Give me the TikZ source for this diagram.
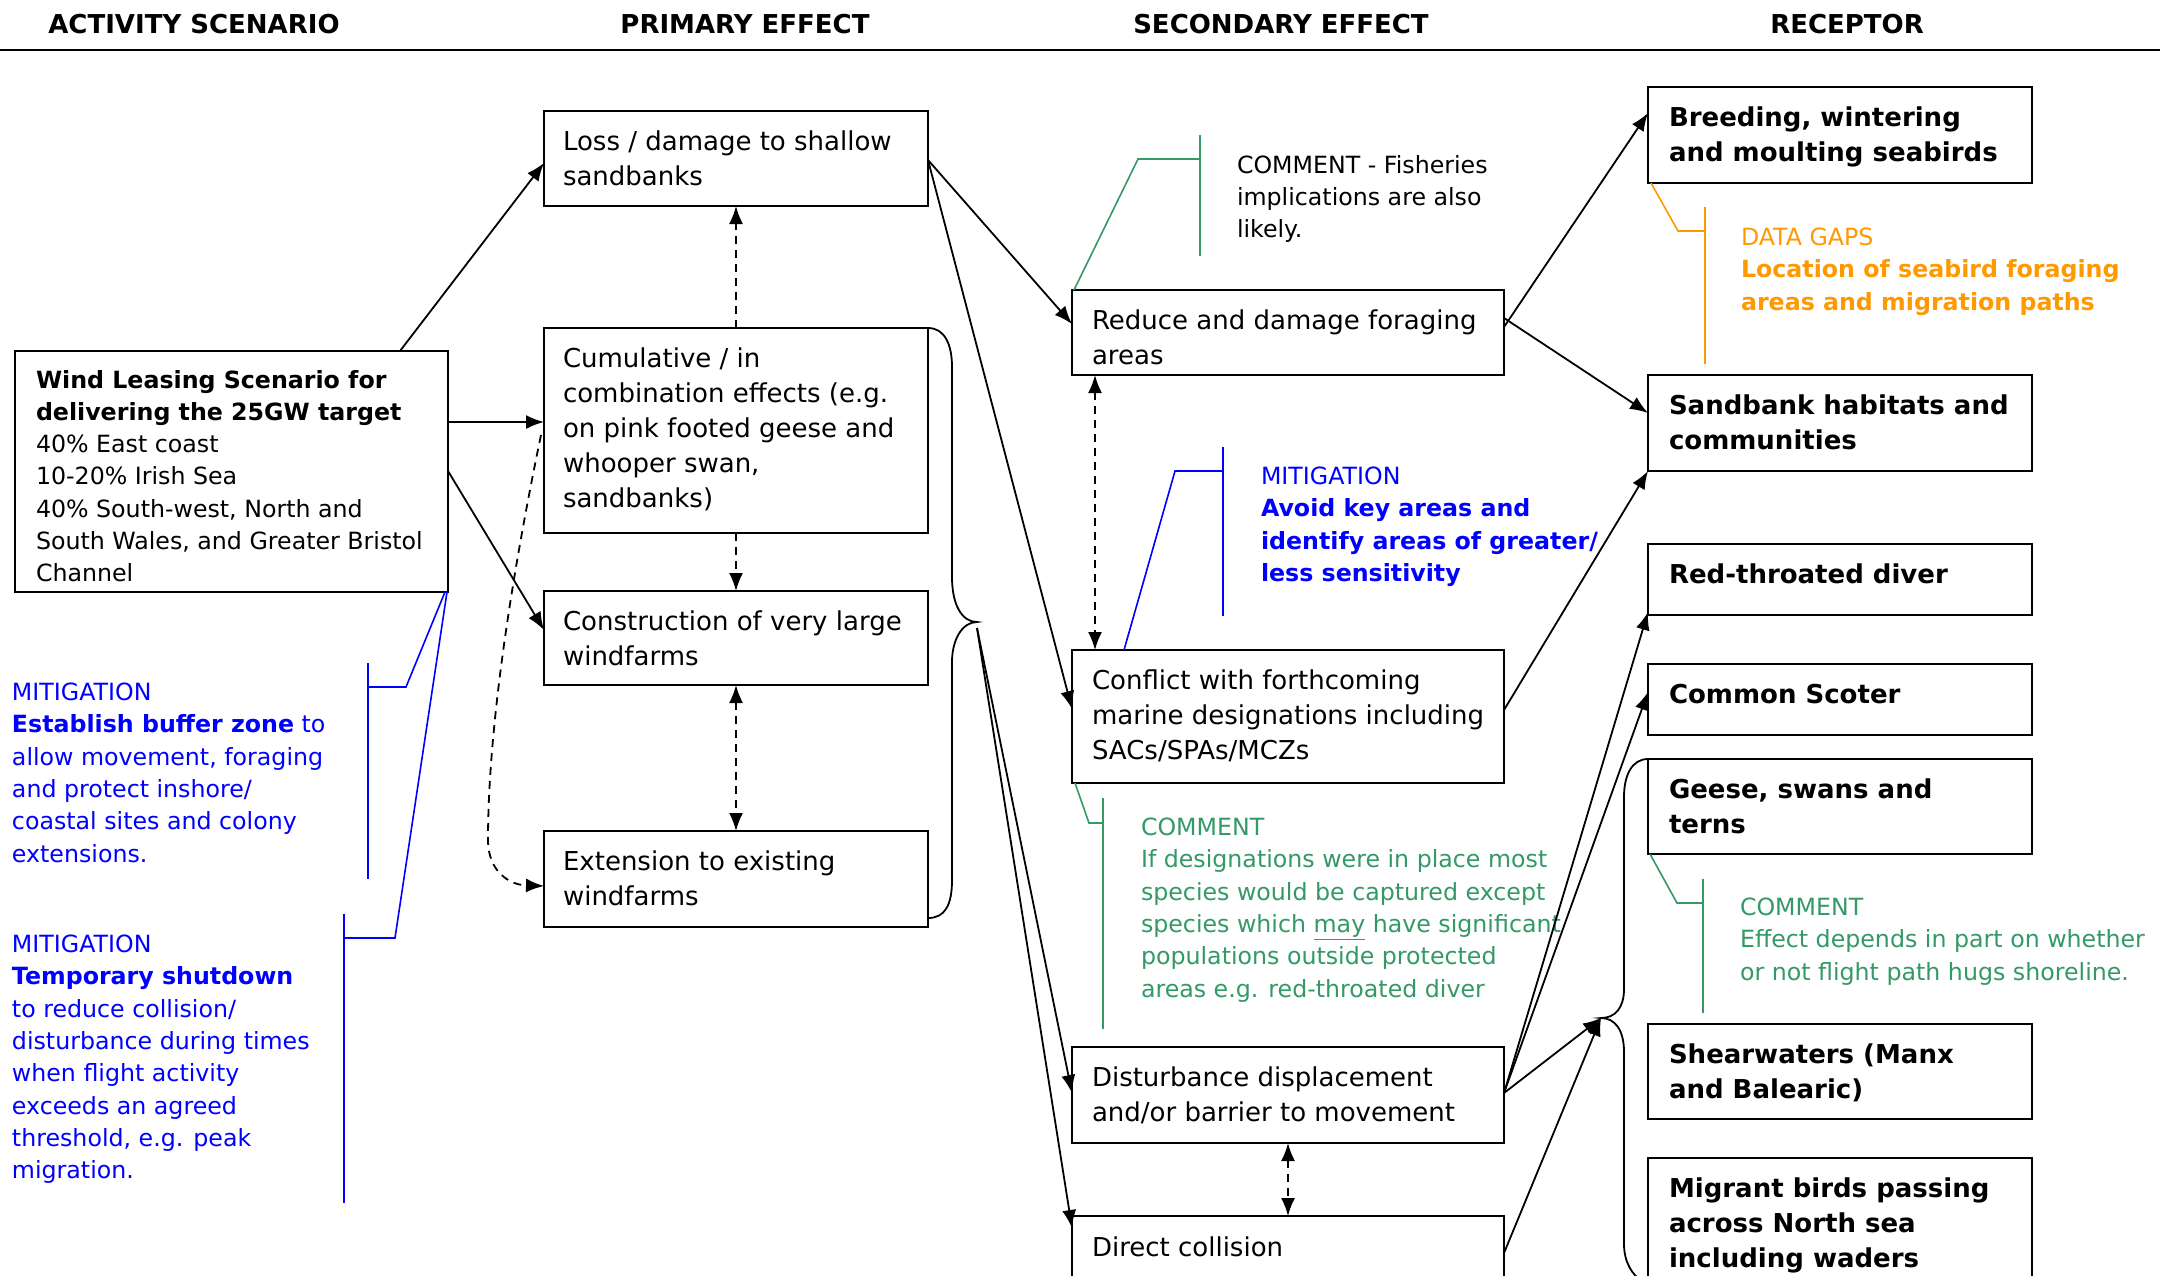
\documentclass[tikz,border=0pt]{standalone}
\usepackage{fontspec}
\setmainfont{DejaVu Sans}
\usetikzlibrary{arrows.meta}
\definecolor{mblue}{RGB}{0,0,255}
\definecolor{mgreen}{RGB}{51,153,102}
\definecolor{morange}{RGB}{255,153,0}
\begin{document}
\begin{tikzpicture}[x=1pt,y=-1pt,
  box/.style={draw, line width=2.2pt, anchor=north west, inner sep=0pt, outer sep=0pt},
  btxt/.style={anchor=north west, inner sep=0pt, outer sep=0pt, align=left, font=\fontsize{26}{35}\selectfont, execute at begin node=\strut},
  rtxt/.style={btxt, font=\bfseries\fontsize{26}{35}\selectfont},
  note/.style={anchor=north west, inner sep=0pt, outer sep=0pt, align=left, font=\fontsize{23.7}{32.3}\selectfont, execute at begin node=\strut},
  hdr/.style={anchor=base, inner sep=0pt, font=\bfseries\fontsize{26}{32}\selectfont},
  conn/.style={line width=1.8pt, -{Latex[length=18pt,width=14pt]}},
  dconn/.style={conn, dash pattern=on 8pt off 6pt},
  ddconn/.style={line width=1.8pt, dash pattern=on 8pt off 6pt, {Latex[length=18pt,width=14pt]}-{Latex[length=18pt,width=14pt]}},
  ann/.style={line width=1.6pt},
  brace/.style={line width=1.8pt}
]
\useasboundingbox (0,0) rectangle (2160,1275);
\clip (0,0) rectangle (2160,1275);
\fill[white] (0,0) rectangle (2160,1275);

% headers
\node[hdr] (h1) at (194,33) {ACTIVITY SCENARIO};
\node[hdr] (h2) at (745,33) {PRIMARY EFFECT};
\node[hdr] (h3) at (1281,33) {SECONDARY EFFECT};
\node[hdr] (h4) at (1847,33) {RECEPTOR};
\draw[line width=2.5pt] (0,50) -- (2160,50);

% boxes
\node[box, minimum width=433pt, minimum height=241pt] (wind) at (15,351) {};
\node[box, minimum width=384pt, minimum height=95pt] (loss) at (544,111) {};
\node[box, minimum width=384pt, minimum height=205pt] (cum) at (544,328) {};
\node[box, minimum width=384pt, minimum height=94pt] (cons) at (544,591) {};
\node[box, minimum width=384pt, minimum height=96pt] (ext) at (544,831) {};
\node[box, minimum width=432pt, minimum height=85pt] (reduce) at (1072,290) {};
\node[box, minimum width=432pt, minimum height=133pt] (conflict) at (1072,650) {};
\node[box, minimum width=432pt, minimum height=96pt] (disturb) at (1072,1047) {};
\node[box, minimum width=432pt, minimum height=100pt] (direct) at (1072,1216) {};
\node[box, minimum width=384pt, minimum height=96pt] (breeding) at (1648,87) {};
\node[box, minimum width=384pt, minimum height=96pt] (sandbank) at (1648,375) {};
\node[box, minimum width=384pt, minimum height=71pt] (red) at (1648,544) {};
\node[box, minimum width=384pt, minimum height=71pt] (scoter) at (1648,664) {};
\node[box, minimum width=384pt, minimum height=95pt] (geese) at (1648,759) {};
\node[box, minimum width=384pt, minimum height=95pt] (shear) at (1648,1024) {};
\node[box, minimum width=384pt, minimum height=150pt] (migrant) at (1648,1158) {};

% box texts
\node[note] (windT) at ([xshift=21,yshift=-19]wind.north west) {\textbf{Wind Leasing Scenario for}\\\textbf{delivering the 25GW target}\\40\% East coast\\10-20\% Irish Sea\\40\% South-west, North and\\South Wales, and Greater Bristol\\Channel};
\node[btxt] (lossT) at ([xshift=19,yshift=-20]loss.north west) {Loss / damage to shallow\\sandbanks};
\node[btxt] (cumT) at ([xshift=19,yshift=-20]cum.north west) {Cumulative / in\\combination effects (e.g.\\on pink footed geese and\\whooper swan,\\sandbanks)};
\node[btxt] (consT) at ([xshift=19,yshift=-20]cons.north west) {Construction of very large\\windfarms};
\node[btxt] (extT) at ([xshift=19,yshift=-20]ext.north west) {Extension to existing\\windfarms};
\node[btxt] (reduceT) at ([xshift=20,yshift=-20]reduce.north west) {Reduce and damage foraging\\areas};
\node[btxt] (conflictT) at ([xshift=20,yshift=-20]conflict.north west) {Conflict with forthcoming\\marine designations including\\SACs/SPAs/MCZs};
\node[btxt] (disturbT) at ([xshift=20,yshift=-20]disturb.north west) {Disturbance displacement\\and/or barrier to movement};
\node[btxt] (directT) at ([xshift=20,yshift=-16]direct.north west) {Direct collision};
\node[rtxt] (breedingT) at ([xshift=21,yshift=-20]breeding.north west) {Breeding, wintering\\and moulting seabirds};
\node[rtxt] (sandbankT) at ([xshift=21,yshift=-20]sandbank.north west) {Sandbank habitats and\\communities};
\node[rtxt] (redT) at ([xshift=21,yshift=-15]red.north west) {Red-throated diver};
\node[rtxt] (scoterT) at ([xshift=21,yshift=-15]scoter.north west) {Common Scoter};
\node[rtxt] (geeseT) at ([xshift=21,yshift=-20]geese.north west) {Geese, swans and\\terns};
\node[rtxt] (shearT) at ([xshift=21,yshift=-20]shear.north west) {Shearwaters (Manx\\and Balearic)};
\node[rtxt] (migrantT) at ([xshift=21,yshift=-20]migrant.north west) {Migrant birds passing\\across North sea\\including waders};

% annotations
\node[note, text=mblue] (mit1) at (12,683) {MITIGATION\\\textbf{Establish buffer zone} to\\allow movement, foraging\\and protect inshore/\\coastal sites and colony\\extensions.};
\node[note, text=mblue] (mit2) at (12,935) {MITIGATION\\\textbf{Temporary shutdown}\\to reduce collision/\\disturbance during times\\when flight activity\\exceeds an agreed\\threshold, e.g. peak\\migration.};
\node[note, text=mblue] (mit3) at (1261,467) {MITIGATION\\\textbf{Avoid key areas and}\\\textbf{identify areas of greater/}\\\textbf{less sensitivity}};
\node[note] (fish) at (1237,155) {COMMENT - Fisheries\\implications are also\\likely.};
\node[note, text=morange] (gaps) at (1741,228) {DATA GAPS\\\textbf{Location of seabird foraging}\\\textbf{areas and migration paths}};
\node[note, text=mgreen] (desig) at (1141,818) {COMMENT\\If designations were in place most\\species would be captured except\\species which \underline{may} have significant\\populations outside protected\\areas e.g. red-throated diver};
\node[note, text=mgreen] (effect) at (1740,898) {COMMENT\\Effect depends in part on whether\\or not flight path hugs shoreline.};

% annotation brackets
\draw[ann, mgreen] (1200,135) -- (1200,256);
\draw[ann, mgreen] (1200,159) -- (1138,159) -- ([xshift=2]reduce.north west);
\draw[ann, morange] (1705,207) -- (1705,364);
\draw[ann, morange] (1705,231) -- (1678,231) -- ([xshift=3]breeding.south west);
\draw[ann, mblue] (1223,447) -- (1223,616);
\draw[ann, mblue] (1223,471) -- (1175,471) -- ([xshift=52]conflict.north west);
\draw[ann, mgreen] (1103,798) -- (1103,1029);
\draw[ann, mgreen] (1103,823) -- (1089,823) -- ([xshift=3]conflict.south west);
\draw[ann, mgreen] (1703,879) -- (1703,1013);
\draw[ann, mgreen] (1703,903) -- (1677,903) -- ([xshift=2]geese.south west);
\draw[ann, mblue] (368,663) -- (368,879);
\draw[ann, mblue] (368,687) -- (406,687) -- ([xshift=-3]wind.south east);
\draw[ann, mblue] (344,914) -- (344,1203);
\draw[ann, mblue] (344,938) -- (395,938) -- ([xshift=-1]wind.south east);

% braces
\coordinate (b1) at (977,622);
\coordinate (b2) at (1601,1018);
\draw[brace] (cum.north east) .. controls (945,328) and (952,345) .. (952,367) -- (952,577)
  .. controls (952,605) and (962,622) .. (b1) .. controls (962,622) and (952,640) .. (952,662)
  -- (952,880) .. controls (952,905) and (945,918) .. (928,918);
\draw[brace] (geese.north west) .. controls (1632,759) and (1624,775) .. (1624,797) -- (1624,989)
  .. controls (1624,1008) and (1615,1018) .. (b2) .. controls (1615,1018) and (1624,1030) .. (1624,1052)
  -- (1624,1244) .. controls (1624,1262) and (1632,1275) .. (1643,1282);

% solid connectors
\draw[conn] ([xshift=385]wind.north west) -- ([yshift=-52]loss.north west);
\draw[conn] ([yshift=-71]wind.north east) -- ([yshift=-94]cum.north west);
\draw[conn] ([yshift=-120]wind.north east) -- ([yshift=-39]cons.north west);
\draw[conn] ([yshift=-49]loss.north east) -- ([yshift=-34]reduce.north west);
\draw[conn] ([yshift=-49]loss.north east) -- ([yshift=-59]conflict.north west);
\draw[conn] ([yshift=-6]b1) -- ([yshift=-46]disturb.north west);
\draw[conn] ([yshift=-6]b1) -- ([yshift=-12]direct.north west);
\draw[conn] ([yshift=-37]reduce.north east) -- ([yshift=-26]breeding.north west);
\draw[conn] ([yshift=-28]reduce.north east) -- ([yshift=-38]sandbank.north west);
\draw[conn] ([yshift=-60]conflict.north east) -- (sandbank.south west);
\draw[conn] ([yshift=-46]disturb.north east) -- ([yshift=3]red.south west);
\draw[conn] ([yshift=-46]disturb.north east) -- ([yshift=-28]scoter.north west);
\draw[conn] ([yshift=-46]disturb.north east) -- (b2);
\draw[conn] ([yshift=-37]direct.north east) -- (b2);

% dashed connectors
\draw[dconn] (cum.north) -- (loss.south);
\draw[dconn] (cum.south) -- (cons.north);
\draw[ddconn] (cons.south) -- (ext.north);
\draw[ddconn] ([xshift=23]reduce.south west) -- ([xshift=23]conflict.north west);
\draw[ddconn] (disturb.south) -- (direct.north);
\draw[dconn] ([xshift=-3,yshift=-107]cum.north west) .. controls (515,560) and (488,720) .. (488,840)
  .. controls (488,872) and (510,885) .. ([yshift=-55]ext.north west);
\end{tikzpicture}
\end{document}
